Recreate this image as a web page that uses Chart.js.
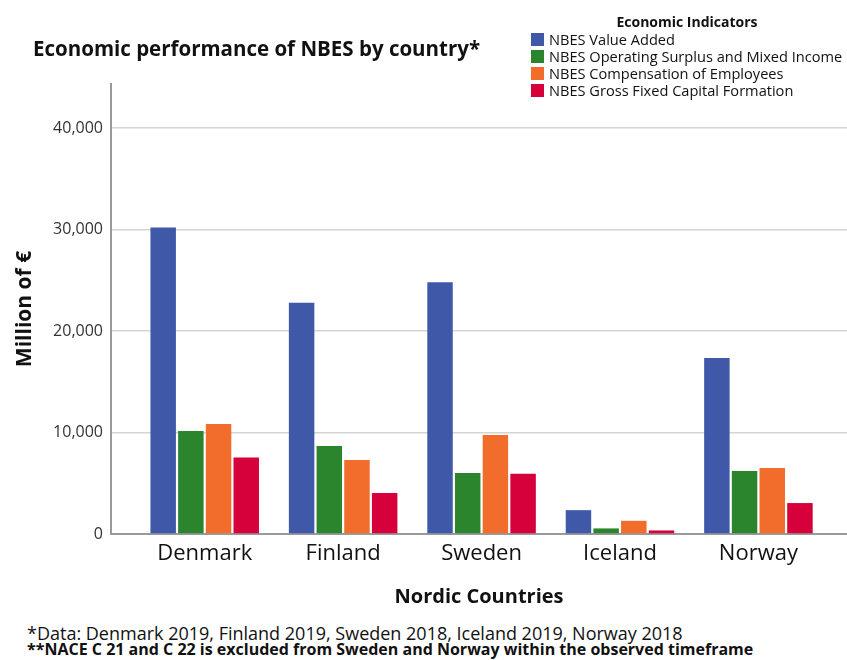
<!DOCTYPE html>
<html>
<head>
<meta charset="utf-8">
<script src="https://cdn.jsdelivr.net/npm/chart.js@4.4.1/dist/chart.umd.min.js"></script>
<style>
  html, body { margin: 0; padding: 0; background: #fff; }
  #wrap { position: relative; width: 847px; height: 660px; overflow: hidden; font-family: 'Open Sans', sans-serif; color: #111; }
  #chart-box { position: absolute; left: 0; top: 0; width: 847px; height: 620px; }
  #title { position: absolute; left: 33px; top: 38px; font-size: 20.5px; line-height: 20px; font-weight: bold; white-space: nowrap; }
  #legend { position: absolute; left: 531px; top: 12px; width: 316px; font-size: 14.6px; }
  #legend .lg-title { text-align: center; font-weight: bold; font-size: 14px; line-height: 19px; width: 312px; }
  #legend .lg-item { display: flex; align-items: center; height: 16.9px; white-space: nowrap; }
  #legend .lg-box { width: 13px; height: 13px; margin-right: 5px; flex: none; }
  #notes { position: absolute; left: 27px; top: 626px; font-size: 18px; line-height: 15.7px; white-space: nowrap; }
  #notes .n2 { font-size: 16px; font-weight: bold; }
</style>
</head>
<body>
<div id="wrap">
  <div id="chart-box"><canvas id="chart"></canvas></div>
  <div id="title">Economic performance of NBES by country*</div>
  <div id="legend"></div>
  <div id="notes">
    <div>*Data: Denmark 2019, Finland 2019, Sweden 2018, Iceland 2019, Norway 2018</div>
    <div class="n2">**NACE C 21 and C 22 is excluded from Sweden and Norway within the observed timeframe</div>
  </div>
</div>
<script>
  const countries = ['Denmark', 'Finland', 'Sweden', 'Iceland', 'Norway'];
  const valueAdded = [30200, 22800, 24800, 2350, 17350];
  const operatingSurplus = [10150, 8680, 6000, 550, 6200];
  const compensation = [10850, 7300, 9750, 1300, 6500];
  const capitalFormation = [7550, 4050, 5950, 350, 3050];
  const yTicks = [0, 10000, 20000, 30000, 40000];

  const seriesNames = [
    'NBES Value Added',
    'NBES Operating Surplus and Mixed Income',
    'NBES Compensation of Employees',
    'NBES Gross Fixed Capital Formation'
  ];
  const seriesColors = ['#3f59a8', '#2a852d', '#f26c2b', '#d6003a'];
  const seriesValues = [valueAdded, operatingSurplus, compensation, capitalFormation];

  // html legend built from the chart's own legend items
  const htmlLegend = {
    id: 'htmlLegend',
    afterUpdate(chart) {
      const box = document.getElementById('legend');
      box.innerHTML = '<div class="lg-title">Economic Indicators</div>';
      const items = chart.options.plugins.legend.labels.generateLabels(chart);
      items.forEach(item => {
        const row = document.createElement('div');
        row.className = 'lg-item';
        const sw = document.createElement('span');
        sw.className = 'lg-box';
        sw.style.background = item.fillStyle;
        const txt = document.createElement('span');
        txt.textContent = item.text;
        row.appendChild(sw);
        row.appendChild(txt);
        box.appendChild(row);
      });
    }
  };

  const ctx = document.getElementById('chart').getContext('2d');
  new Chart(ctx, {
    type: 'bar',
    data: {
      datasets: seriesNames.map((name, s) => ({
        label: name,
        data: seriesValues[s].map((v, i) => ({ x: i, y: v })),
        backgroundColor: seriesColors[s],
        borderWidth: 0,
        categoryPercentage: 0.8,
        barPercentage: 0.92
      }))
    },
    options: {
      responsive: true,
      maintainAspectRatio: false,
      animation: false,
      layout: { padding: { top: 84, left: 0, right: 0, bottom: 0 }, autoPadding: false },
      plugins: {
        legend: { display: false },
        title: { display: false },
        tooltip: { enabled: false }
      },
      scales: {
        x: {
          type: 'linear',
          offset: false,
          min: -0.677,
          max: 4.64,
          afterFit(scale) { scale.height = 86; },
          grid: { display: false, drawTicks: false, offset: false },
          border: { color: '#9a9a9a', width: 2 },
          ticks: {
            stepSize: 1,
            includeBounds: false,
            autoSkip: false,
            maxRotation: 0,
            padding: 7,
            color: '#111',
            font: { family: 'Open Sans', size: 22 },
            callback: (v) => countries[v] ?? ''
          },
          title: {
            display: true,
            text: 'Nordic Countries',
            color: '#111',
            font: { family: 'Open Sans', size: 20, weight: 'bold' },
            padding: { top: 0, bottom: 11 }
          }
        },
        y: {
          min: 0,
          max: 44350,
          afterFit(scale) { scale.width = 111; },
          afterBuildTicks(scale) { scale.ticks = yTicks.map(v => ({ value: v })); },
          grid: { color: '#d4d4d4', lineWidth: 1.5, drawTicks: false },
          border: { color: '#9a9a9a', width: 2 },
          ticks: {
            padding: 8,
            color: '#333',
            font: { family: 'Open Sans', size: 16 },
            callback: (v) => v.toLocaleString('en-US')
          },
          title: {
            display: true,
            text: 'Million of €',
            color: '#111',
            font: { family: 'Open Sans', size: 21, weight: 'bold' },
            padding: { top: 12, bottom: 0 }
          }
        }
      }
    },
    plugins: [htmlLegend]
  });
</script>
</body>
</html>
